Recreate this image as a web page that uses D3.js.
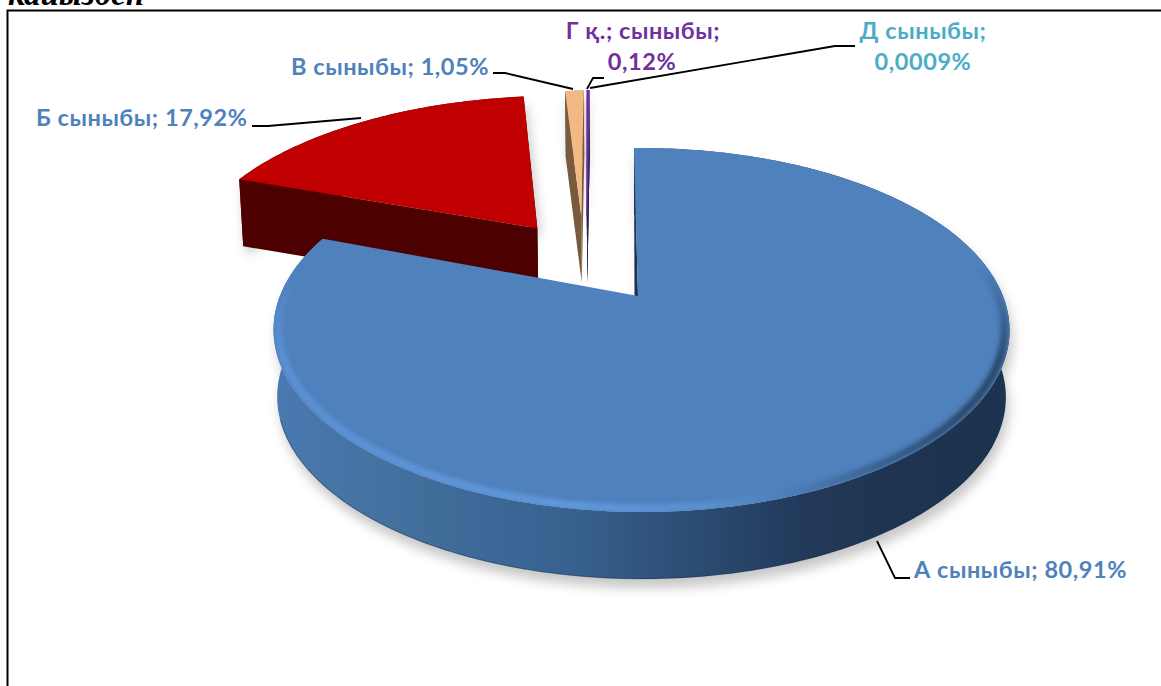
<!DOCTYPE html>
<html><head><meta charset="utf-8">
<script src="https://cdn.jsdelivr.net/npm/d3@7"></script>
<style>html,body{margin:0;padding:0;background:#fff;overflow:hidden}svg{display:block}</style>
</head><body><svg id="c" width="1161" height="686"></svg>
<script>
// ---- data ----
const categories = ["А сыныбы","Б сыныбы","В сыныбы","Г қ.; сыныбы","Д сыныбы"];
const values = [80.91,17.92,1.05,0.12,0.0009];
const valueLabels = ["80,91%","17,92%","1,05%","0,12%","0,0009%"];
// ---- styling ----
const topColors  = ["#4f81bd","#c00000","#f2b985","#7030a0","#4bacc6"];
const sideColors = ["url(#wall)","#4d0000","#7a5a3c","#2b2350","#2b2350"];
const textColors = ["#4f81bd","#4f81bd","#4f81bd","#7030a0","#4bacc6"];
const explode = [[0,0],[-.301,.417],[-.172,.5],[-.155,.5],[-.155,.5]];
const sliceScale = [1,1.035,1,1,1];
const sliceTurn = [0,-.7,0,-.3,-.3];

const svg = d3.select("#c"), FONT = "Lato, 'Open Sans', sans-serif";
const W=1161,H=686, ax=638, ay=296, A=361.5, B=175.6, k=.1868, m=.0095, depth=67;
const project=(u,v,z=0)=>{const w=1+k*v-m*u;return [ax+A*u/w*(1-.01*z), ay-B*v/w+z*depth];};

const rot=-0.75*Math.PI/180;
const pie=d3.pie().sort(null).startAngle(rot).endAngle(2*Math.PI+rot)(values);
const line=d3.line();
const arcPts=(d,i,z,r=1)=>{
  const n=Math.max(2,Math.ceil((d.endAngle-d.startAngle)*60)), [ox,oy]=explode[i], tr=sliceTurn[i]*Math.PI/180, R=r*sliceScale[i];
  return d3.range(n+1).map(j=>{const t=d.startAngle+(d.endAngle-d.startAngle)*j/n+tr;
    return project(ox+R*Math.sin(t),oy+R*Math.cos(t),z);});
};
const apex=(i,z)=>project(explode[i][0],explode[i][1],z);
const topPath=(d,i)=>line([apex(i,0),...arcPts(d,i,0)])+"Z";
const wallPath=(d,i)=>line([...arcPts(d,i,0),...arcPts(d,i,1).reverse()])+"Z";
const sidePath=(d,i,end)=>{const a=arcPts(d,i,0),b=arcPts(d,i,1),q=end?a.length-1:0;
  return line([apex(i,0),a[q],b[q],apex(i,1)])+"Z";};

const defs=svg.append("defs");
const grad=(id,stops,x1,x2)=>{const g=defs.append("linearGradient").attr("id",id).attr("gradientUnits","userSpaceOnUse")
  .attr("x1",x1).attr("x2",x2).attr("y1",0).attr("y2",0);
  stops.forEach(s=>g.append("stop").attr("offset",s[0]).attr("stop-color",s[1]));};
grad("wall",[[0,"#4a79b1"],[.15,"#44719f"],[.4,"#386190"],[.55,"#2d4f76"],[.72,"#22395a"],[.85,"#1e3450"],[1,"#1c3350"]],275,1010);
grad("rim",[[0,"#5a90d4"],[.4,"#6199dc"],[.58,"#5a90d2"],[.68,"#4f81bd"],[.8,"#3c6696"],[.93,"#2b4a6e"],[1,"#2b4a6e"]],275,1010);
const fade=defs.append("linearGradient").attr("id","fade").attr("gradientUnits","userSpaceOnUse")
  .attr("x1",0).attr("x2",0).attr("y1",265).attr("y2",360);
fade.append("stop").attr("offset",0).attr("stop-color","#000");
fade.append("stop").attr("offset",1).attr("stop-color","#fff");
defs.append("mask").attr("id","rimfade").attr("maskUnits","userSpaceOnUse").attr("x",0).attr("y",0).attr("width",W).attr("height",H)
  .append("rect").attr("width",W).attr("height",H).attr("fill","url(#fade)");
defs.append("filter").attr("id","blur").attr("x","-20%").attr("y","-20%").attr("width","140%").attr("height","140%")
  .append("feGaussianBlur").attr("stdDeviation",6);
defs.append("filter").attr("id","soft").attr("filterUnits","userSpaceOnUse").attr("x",0).attr("y",0).attr("width",W).attr("height",H)
  .append("feGaussianBlur").attr("stdDeviation",2);
defs.append("clipPath").attr("id","topclip").append("path").attr("d",topPath(pie[0],0));

// frame and clipped heading
svg.append("text").attr("x",8).attr("y",5).attr("font-family","'Liberation Serif',serif").attr("font-weight",700)
  .attr("font-style","italic").attr("font-size",33).attr("fill","#000").text("кайызбен");
svg.append("path").attr("d",`M${W},10.5H7.5V${H}`).attr("fill","none").attr("stroke","#000").attr("stroke-width",2);

// soft shadows
const sh=svg.append("g").attr("filter","url(#blur)").attr("fill","#000").attr("opacity",.22).attr("transform","translate(3,9)");
pie.forEach((d,i)=>{ if(values[i]>=0.5){ sh.append("path").attr("d",wallPath(d,i)); sh.append("path").attr("d",topPath(d,i)); }});

// slices: far pieces first, the large one last
[1,2,4,3,0].forEach(i=>{
  const d=pie[i], g=svg.append("g");
  g.append("path").attr("d",wallPath(d,i)).attr("fill",sideColors[i]);
  if(i>0)[0,1].forEach(e=>g.append("path").attr("d",sidePath(d,i,e)).attr("fill",sideColors[i]));
  else {
    const a=arcPts(d,i,0)[0], c=apex(i,0);
    g.append("path").attr("d",line([a,[c[0]-3.5,c[1]],c])+"Z").attr("fill","#1c3350");
    // soft dark line at the foot of the wall
    g.append("path").attr("d",line(arcPts({startAngle:2.0,endAngle:4.4},0,1,.999))).attr("fill","none")
      .attr("stroke","#16283f").attr("stroke-opacity",.35).attr("stroke-width",1.2);
  }
  g.append("path").attr("d",topPath(d,i)).attr("fill",topColors[i])
    .attr("stroke",i===3?topColors[i]:"none").attr("stroke-width",1.2);
});
// bevel on the rim of the large slice
const d0=pie[0];
const rimArc=arcPts({startAngle:1.3,endAngle:d0.endAngle-.1},0,0,.987);
svg.append("g").attr("clip-path","url(#topclip)").append("g").attr("mask","url(#rimfade)").append("path").attr("d",line(rimArc))
  .attr("fill","none").attr("stroke","url(#rim)").attr("stroke-width",8).attr("filter","url(#soft)");

// leader lines
const leaders=d3.line();
[[[877,541],[895,578],[910,578]],[[361,118],[268,126],[252,126]],[[493,73],[505,73],[573,89]],
 [[587,89],[593,78],[604,78]],[[590,88],[835,46],[855,46]]].forEach(p=>
  svg.append("path").attr("d",leaders(p)).attr("fill","none").attr("stroke","#000").attr("stroke-width",1.8));

// labels
const label=(t,x,y,i,anchor="start")=>svg.append("text").attr("x",x).attr("y",y).attr("text-anchor",anchor)
  .attr("font-family",FONT).attr("font-weight",700).attr("font-size",23.5).attr("letter-spacing",.55).attr("fill",textColors[i]).text(t);
label(`${categories[0]}; ${valueLabels[0]}`,914,578,0);
label(`${categories[1]}; ${valueLabels[1]}`,36,126,1);
label(`${categories[2]}; ${valueLabels[2]}`,291,75,2);
label(categories[3]+";",643,39,3,"middle");
label(valueLabels[3],642,70,3,"middle");
label(categories[4]+";",923,39,4,"middle");
label(valueLabels[4],923,70,4,"middle");
</script></body></html>
